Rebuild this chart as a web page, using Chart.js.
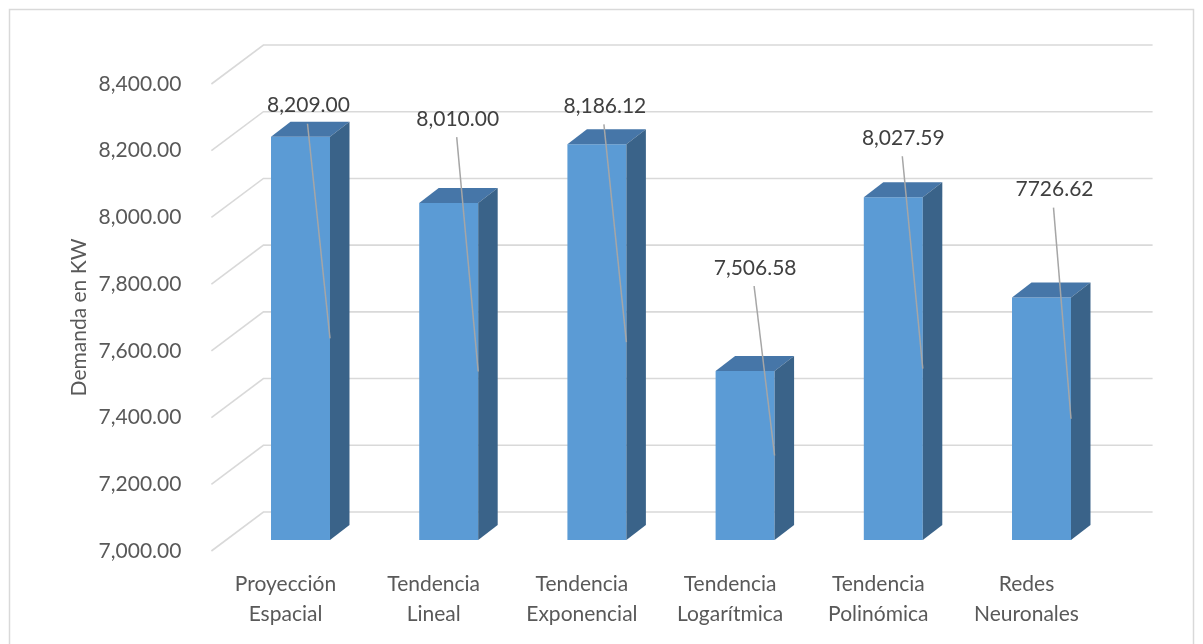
<!DOCTYPE html>
<html lang="es">
<head>
<meta charset="utf-8">
<title>Demanda en KW</title>
<script src="https://cdn.jsdelivr.net/npm/chart.js@4.4.1/dist/chart.umd.min.js"></script>
<style>
  html, body { margin:0; padding:0; background:#fff; }
  #grafico { display:block; }
</style>
</head>
<body>
<canvas id="grafico" width="1203" height="644"></canvas>
<script>
// Datos
const categorias = [
  ['Proyección', 'Espacial'],
  ['Tendencia', 'Lineal'],
  ['Tendencia', 'Exponencial'],
  ['Tendencia', 'Logarítmica'],
  ['Tendencia', 'Polinómica'],
  ['Redes', 'Neuronales']
];
const demanda        = [8209.00, 8010.00, 8186.12, 7506.58, 8027.59, 7726.62];
const separadorMiles = [true, true, true, true, true, false];
const ticksY         = [7000, 7200, 7400, 7600, 7800, 8000, 8200, 8400];

// Etiquetas movidas a mano (px respecto a la cara superior de cada barra)
const posEtiquetas = [[8, -31], [9, -84], [8, -38], [10, -103], [10, -59], [13, -108]];

// Efecto 3D
const PARED = { dx: 52,   dy: -39 };  // fondo de la pared
const DESPL = { dx: 15,   dy: -11 };  // plano frontal de las barras
const PROF  = { dx: 19.5, dy: -15 };  // profundidad de cada barra

const FUENTE = "Lato, 'Open Sans', sans-serif";
const GRIS   = '#595959';

const fmt = (v, sep) => v.toLocaleString('en-US', { minimumFractionDigits: 2, maximumFractionDigits: 2, useGrouping: sep });

const efecto3D = {
  id: 'efecto3D',
  beforeDraw(chart) {
    const { ctx } = chart;
    ctx.save();
    ctx.fillStyle = '#fff';
    ctx.fillRect(0, 0, chart.width, chart.height);
    ctx.strokeStyle = '#D9D9D9';
    ctx.lineWidth = 1.5;
    ctx.strokeRect(9.5, 9.5, 1184, 660);
    ctx.restore();
  },
  beforeDatasetsDraw(chart) {
    const { ctx, chartArea: a, scales: { y } } = chart;
    ctx.save();
    ctx.strokeStyle = '#D9D9D9';
    ctx.lineWidth = 1.6;
    ticksY.forEach(v => {
      const py = y.getPixelForValue(v);
      ctx.beginPath();
      ctx.moveTo(a.left, py);
      ctx.lineTo(a.left + PARED.dx, py + PARED.dy);
      ctx.lineTo(a.right + PARED.dx, py + PARED.dy);
      ctx.stroke();
    });
    ctx.restore();
    ctx.save();
    ctx.translate(DESPL.dx, DESPL.dy);
  },
  afterDatasetsDraw(chart) {
    const { ctx } = chart;
    const meta = chart.getDatasetMeta(0);
    meta.data.forEach((bar, i) => {
      const { x, y, width, base } = bar.getProps(['x', 'y', 'width', 'base'], true);
      const L = x - width / 2, R = x + width / 2;
      // cara superior
      ctx.fillStyle = '#4676A8';
      ctx.beginPath();
      ctx.moveTo(L, y);
      ctx.lineTo(L + PROF.dx, y + PROF.dy);
      ctx.lineTo(R + PROF.dx, y + PROF.dy);
      ctx.lineTo(R, y);
      ctx.closePath();
      ctx.fill();
      // cara lateral
      ctx.fillStyle = '#3A6389';
      ctx.beginPath();
      ctx.moveTo(R, y);
      ctx.lineTo(R + PROF.dx, y + PROF.dy);
      ctx.lineTo(R + PROF.dx, base + PROF.dy);
      ctx.lineTo(R, base);
      ctx.closePath();
      ctx.fill();
    });
    // etiquetas con línea guía
    meta.data.forEach((bar, i) => {
      const { x, y, width, base } = bar.getProps(['x', 'y', 'width', 'base'], true);
      const lx = x + posEtiquetas[i][0], ly = y + posEtiquetas[i][1];
      ctx.strokeStyle = '#A6A6A6';
      ctx.lineWidth = 1.5;
      ctx.beginPath();
      ctx.moveTo(lx - 1, ly + 18);
      ctx.lineTo(x + width / 2, (y + base) / 2);
      ctx.stroke();
      ctx.fillStyle = '#404040';
      ctx.font = `21px ${FUENTE}`;
      ctx.textAlign = 'center';
      ctx.textBaseline = 'middle';
      ctx.fillText(fmt(demanda[i], separadorMiles[i]), lx, ly);
    });
    ctx.restore();
  }
};

new Chart(document.getElementById('grafico'), {
  type: 'bar',
  data: {
    labels: categorias,
    datasets: [{
      data: demanda,
      base: 7000,
      backgroundColor: '#5B9BD5',
      borderWidth: 0,
      categoryPercentage: 1,
      barPercentage: 0.398,
      clip: false
    }]
  },
  options: {
    responsive: false,
    animation: false,
    layout: { padding: { top: 84, right: 102.4, left: 0, bottom: 0 } },
    plugins: { legend: { display: false }, tooltip: { enabled: false } },
    scales: {
      x: {
        grid: { display: false },
        border: { display: false },
        ticks: {
          color: GRIS, font: { family: FUENTE, size: 21, lineHeight: 1.43 },
          padding: 10, maxRotation: 0, autoSkip: false
        },
        afterFit: s => { s.height = 93; }
      },
      y: {
        min: 7000, max: 8400,
        grid: { display: false },
        border: { display: false },
        afterBuildTicks: s => { s.ticks = ticksY.map(v => ({ value: v })); },
        ticks: {
          color: GRIS, font: { family: FUENTE, size: 21 }, padding: 22,
          callback: v => fmt(v, true)
        },
        title: {
          display: true, text: 'Demanda en KW', color: GRIS,
          font: { family: FUENTE, size: 21 }, padding: { top: 67, bottom: 0 }
        },
        afterFit: s => { s.width = 211.4; }
      }
    }
  },
  plugins: [efecto3D]
});
</script>
</body>
</html>
